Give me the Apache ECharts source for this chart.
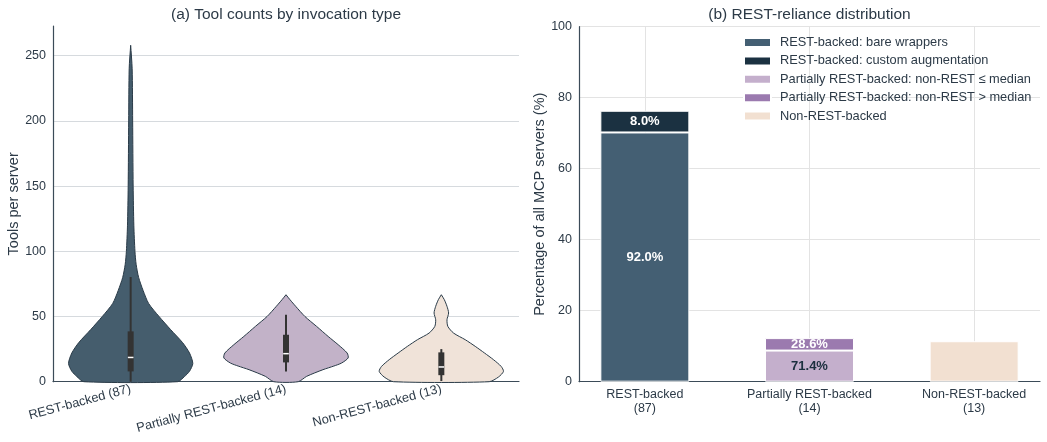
<!DOCTYPE html>
<html><head><meta charset="utf-8">
<script src="https://cdn.jsdelivr.net/npm/echarts@6/dist/echarts.min.js"></script>
<style>html,body{margin:0;padding:0;background:#fff}#c{width:1047px;height:442px}</style>
</head><body><div id="c"></div>
<script>
// ---------- Panel (a): violins ----------
const violinCategories = ['REST-backed (87)', 'Partially REST-backed (14)', 'Non-REST-backed (13)'];
const yTicksA = [0, 50, 100, 150, 200, 250];
// density outlines: value and relative half-width (1 = widest)
const restY = [0, 4, 8, 14, 22, 30, 40, 50, 60, 70, 80, 90, 100, 120, 150, 200, 240, 258];
const restW = [0.754, 0.867, 0.947, 1, 0.947, 0.835, 0.642, 0.457, 0.289, 0.2, 0.128, 0.088, 0.069, 0.051, 0.04, 0.032, 0.024, 0];
const partialY = [0, 4.1, 9.2, 12, 14.3, 18.2, 22, 28.4, 34.7, 42.4, 50, 57.8, 62.9, 66.7];
const partialW = [0.197, 0.332, 0.594, 0.77, 0.894, 1, 0.984, 0.839, 0.679, 0.493, 0.305, 0.156, 0.064, 0];
const nonY = [0, 3.6, 7.9, 11.7, 16.9, 22, 27.1, 32.2, 37.3, 42.4, 47.5, 52.7, 57.8, 62.9, 66.7];
const nonW = [0.77, 0.92, 1, 0.963, 0.839, 0.695, 0.546, 0.385, 0.197, 0.105, 0.091, 0.117, 0.091, 0.048, 0];
// inner box: whisker low/high, Q1, Q3, median
const whiskerLow = [0, 7.9, 0.5];
const whiskerHigh = [80.3, 51.4, 25];
const q1 = [7.9, 14.8, 5];
const q3 = [38.6, 36, 22.5];
const medians = [18.6, 21.5, 11.3];

// ---------- Panel (b): stacked bars ----------
const barCategories = ['REST-backed\n(87)', 'Partially REST-backed\n(14)', 'Non-REST-backed\n(13)'];
const barPositions = [0, 1, 2];
const bareWrappers = [70.21];        // % of all servers
const customAugmentation = [6.11];
const partialLow = [8.77];
const partialHigh = [3.51];
const nonRest = [11.40];
const bareLabel = ['92.0%'];
const customLabel = ['8.0%'];
const partialLowLabel = ['71.4%'];
const partialHighLabel = ['28.6%'];

const violinColors = ['#455d6d', '#c2b2c8', '#f0e3d9'];
const TXT = '#2c3a47';
const AX = '#3b4b58';
const FONT = 'Liberation Sans, Arial, sans-serif';

const profiles = [[restY, restW], [partialY, partialW], [nonY, nonW]];

const chart = echarts.init(document.getElementById('c'));

function renderViolin(params, api) {
  const i = params.dataIndex;
  const [ys, ws] = profiles[i];
  const band = api.size([1, 0])[0];
  const maxHalf = 0.4 * band;
  const left = [], right = [];
  for (let k = 0; k < ys.length; k++) {
    const c = api.coord([i, ys[k]]);
    left.push([c[0] - ws[k] * maxHalf, c[1]]);
    right.push([c[0] + ws[k] * maxHalf, c[1]]);
  }
  const pts = left.concat(right.reverse());
  const wl = api.coord([i, whiskerLow[i]]);
  const wh = api.coord([i, whiskerHigh[i]]);
  const b1 = api.coord([i, q1[i]]);
  const b3 = api.coord([i, q3[i]]);
  const md = api.coord([i, medians[i]]);
  return {
    type: 'group',
    children: [
      { type: 'polygon', shape: { points: pts, smooth: 0.25 },
        style: { fill: violinColors[i], stroke: '#2a3b48', lineWidth: 1 } },
      { type: 'line', shape: { x1: wl[0], y1: wl[1], x2: wh[0], y2: wh[1] },
        style: { stroke: '#333333', lineWidth: 2 } },
      { type: 'line', shape: { x1: b1[0], y1: b1[1], x2: b3[0], y2: b3[1] },
        style: { stroke: '#333333', lineWidth: 6, lineCap: 'butt' } },
      { type: 'line', shape: { x1: md[0] - 2.8, y1: md[1], x2: md[0] + 2.8, y2: md[1] },
        style: { stroke: '#ffffff', lineWidth: 1.5 } }
    ]
  };
}

// data stored as [value, position] so the stacked dimension is the value (y)
function barSeries(name, color, xs, vals, labels, stack, labelColor) {
  return {
    name, type: 'bar', xAxisIndex: 1, yAxisIndex: 1, stack,
    barWidth: 89, barGap: '-100%',
    encode: { x: 1, y: 0 },
    data: vals.map((v, k) => [v, xs[k]]),
    itemStyle: { color, borderColor: '#ffffff', borderWidth: 1 },
    label: {
      show: !!labels, position: 'inside', fontFamily: FONT, fontSize: 13, fontWeight: 'bold',
      color: labelColor || '#ffffff',
      formatter: p => labels ? labels[p.dataIndex] : ''
    },
    emphasis: { disabled: true }
  };
}

const option = {
  animation: false,
  backgroundColor: '#ffffff',
  textStyle: { fontFamily: FONT, color: TXT },
  title: [
    { text: '(a) Tool counts by invocation type', left: 281, top: 2, textAlign: 'center',
      textStyle: { fontFamily: FONT, fontSize: 15.5, fontWeight: 'normal', color: TXT } },
    { text: '(b) REST-reliance distribution', left: 804.5, top: 2, textAlign: 'center',
      textStyle: { fontFamily: FONT, fontSize: 15.5, fontWeight: 'normal', color: TXT } }
  ],
  legend: {
    orient: 'vertical', left: 738, top: 31, itemWidth: 27, itemHeight: 9, itemGap: 5.4,
    icon: 'rect', selectedMode: false,
    textStyle: { fontFamily: FONT, fontSize: 12.8, color: TXT, padding: [0, 0, 0, 4] },
    data: ['REST-backed: bare wrappers', 'REST-backed: custom augmentation',
      'Partially REST-backed: non-REST ≤ median', 'Partially REST-backed: non-REST > median', 'Non-REST-backed']
  },
  grid: [
    { left: 53, right: 528, top: 26, bottom: 60.3 },
    { left: 579, right: 7, top: 26.7, bottom: 60.3 }
  ],
  xAxis: [
    { type: 'category', gridIndex: 0, data: violinCategories,
      axisLine: { lineStyle: { color: AX, width: 1.2 } }, axisTick: { show: false },
      axisLabel: { rotate: 15, margin: 7, fontSize: 12.8, color: TXT, fontFamily: FONT, interval: 0 },
      splitLine: { show: false } },
    { type: 'value', gridIndex: 1, min: -0.4, max: 2.4,
      axisLine: { onZero: false, lineStyle: { color: AX, width: 1.2 } },
      axisTick: { show: false, customValues: barPositions },
      axisLabel: { customValues: barPositions, margin: 6, fontSize: 12.5, lineHeight: 14, color: TXT, fontFamily: FONT,
        formatter: v => barCategories[Math.round(v)] },
      splitLine: { show: true, lineStyle: { color: '#e3e3e3', width: 1 } } }
  ],
  yAxis: [
    { type: 'value', gridIndex: 0, min: 0, max: 272.8,
      name: 'Tools per server', nameLocation: 'middle', nameGap: 32,
      nameTextStyle: { fontSize: 14.5, color: TXT, fontFamily: FONT },
      axisLine: { show: true, onZero: false, lineStyle: { color: AX, width: 1.2 } },
      axisTick: { show: false, customValues: yTicksA },
      axisLabel: { customValues: yTicksA, margin: 7, fontSize: 12.5, color: TXT, fontFamily: FONT },
      splitLine: { show: true, lineStyle: { color: '#d6dade', width: 1 } } },
    { type: 'value', gridIndex: 1, min: 0, max: 100, interval: 20,
      name: 'Percentage of all MCP servers (%)', nameLocation: 'middle', nameGap: 31,
      nameTextStyle: { fontSize: 14.5, color: TXT, fontFamily: FONT },
      axisLine: { show: true, onZero: false, lineStyle: { color: AX, width: 1.2 } },
      axisTick: { show: false },
      axisLabel: { margin: 7, fontSize: 12.5, color: TXT, fontFamily: FONT },
      splitLine: { show: true, lineStyle: { color: '#e3e3e3', width: 1 } } }
  ],
  series: [
    { type: 'custom', xAxisIndex: 0, yAxisIndex: 0, renderItem: renderViolin,
      data: violinCategories.map((c, i) => [i, medians[i]]), silent: true, z: 2 },
    barSeries('REST-backed: bare wrappers', '#445f73', [0], bareWrappers, bareLabel, 'rest'),
    barSeries('REST-backed: custom augmentation', '#1b3141', [0], customAugmentation, customLabel, 'rest'),
    barSeries('Partially REST-backed: non-REST ≤ median', '#c4afcc', [1], partialLow, partialLowLabel, 'partial', '#1b2f3e'),
    barSeries('Partially REST-backed: non-REST > median', '#9b7aaf', [1], partialHigh, partialHighLabel, 'partial'),
    barSeries('Non-REST-backed', '#f2e0d1', [2], nonRest, null, 'non')
  ]
};
chart.setOption(option);
</script>
</body></html>
